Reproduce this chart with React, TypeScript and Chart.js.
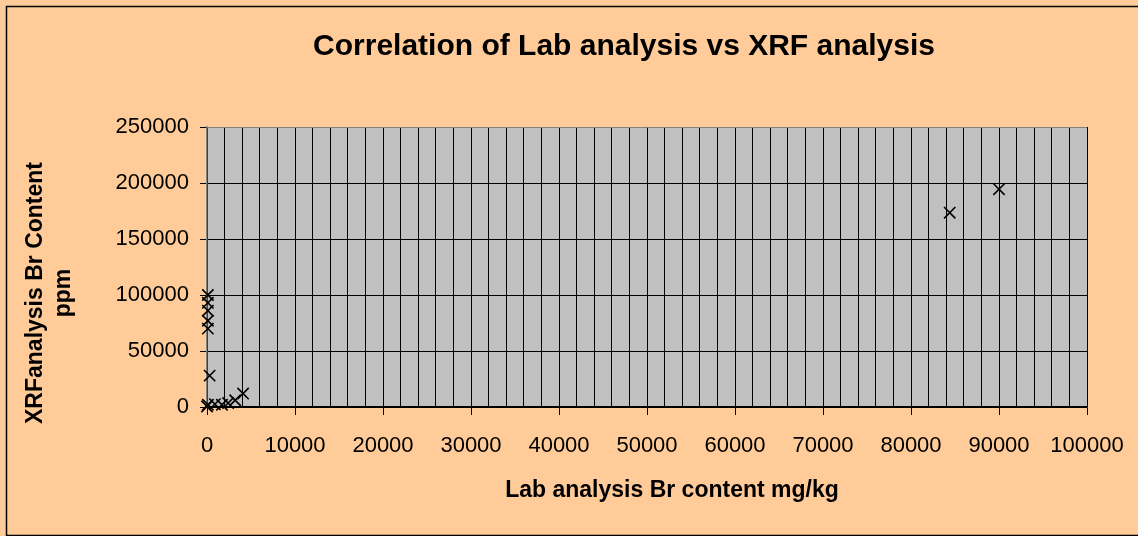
import React, { useEffect, useRef } from "react";
import { Chart, registerables } from "chart.js";

Chart.register(...registerables);

const labBr: number[] = [0, 100, 900, 1700, 2400, 3200, 4100, 100, 100, 100, 100, 100, 300, 84400, 90000];
const xrfBr: number[] = [500, 2000, 2500, 2000, 3500, 6000, 12000, 100000, 93000, 86000, 77000, 70000, 28000, 173500, 194500];

const chartTitle = "Correlation of Lab analysis vs XRF analysis";
const xTitle = "Lab analysis Br content mg/kg";
const yTitleLines = ["XRFanalysis Br Content", "ppm"];

const FONT = "'Liberation Sans', Arial, sans-serif";

const decor = {
  id: "decor",
  beforeDraw(chart: any) {
    const { ctx, width, height, chartArea } = chart;
    ctx.save();
    ctx.fillStyle = "#FFCC99";
    ctx.fillRect(0, 0, width, height);
    ctx.strokeStyle = "#000";
    ctx.lineWidth = 1.5;
    ctx.strokeRect(6.5, 6.5, width + 10, height - 7);
    ctx.fillStyle = "#C0C0C0";
    ctx.fillRect(chartArea.left, chartArea.top, chartArea.right - chartArea.left, chartArea.bottom - chartArea.top);
    ctx.restore();
  },
  afterDraw(chart: any) {
    const { ctx } = chart;
    ctx.save();
    ctx.fillStyle = "#000";
    ctx.textAlign = "center";
    ctx.textBaseline = "middle";
    ctx.font = `bold 30px ${FONT}`;
    ctx.fillText(chartTitle, 624, 47);
    ctx.font = `bold 23px ${FONT}`;
    ctx.fillText(xTitle, 672, 491);
    ctx.translate(0, 293);
    ctx.rotate(-Math.PI / 2);
    ctx.textBaseline = "alphabetic";
    ctx.fillText(yTitleLines[0], 0, 42);
    ctx.fillText(yTitleLines[1], 0, 70);
    ctx.restore();
  },
};

export default function App() {
  const ref = useRef<HTMLCanvasElement | null>(null);
  useEffect(() => {
    document.body.style.margin = "0";
    if (!ref.current) return;
    const chart = new Chart(ref.current, {
      type: "scatter",
      data: {
        datasets: [
          {
            label: "Br",
            data: labBr.map((x, i) => ({ x, y: xrfBr[i] })),
            pointStyle: "crossRot",
            pointRadius: 8,
            pointBorderWidth: 1.6,
            borderColor: "#000",
            backgroundColor: "#000",
            showLine: false,
            clip: false,
          },
        ],
      },
      options: {
        animation: false,
        responsive: false,
        devicePixelRatio: 1,
        layout: { padding: { left: 0, top: 127, right: 51, bottom: 0 } },
        plugins: { legend: { display: false }, title: { display: false }, tooltip: { enabled: false } },
        scales: {
          x: {
            type: "linear",
            min: 0,
            max: 100000,
            afterFit: (s: any) => {
              s.height = 129;
              s.paddingLeft = 0;
              s.paddingRight = 0;
            },
            ticks: {
              stepSize: 2000,
              autoSkip: false,
              maxRotation: 0,
              padding: 18,
              color: "#000",
              font: { family: FONT, size: 22 },
              callback: (v: any) => (Number(v) % 10000 === 0 ? String(v) : ""),
            },
            grid: {
              color: "#000",
              lineWidth: 1,
              tickLength: 8,
              tickColor: (c: any) => (c.tick && c.tick.value % 10000 === 0 ? "#000" : "rgba(0,0,0,0)"),
            },
            border: { color: "#000", width: 1.5 },
          },
          y: {
            type: "linear",
            min: 0,
            max: 250000,
            afterFit: (s: any) => {
              s.width = 207;
              s.paddingTop = 0;
              s.paddingBottom = 0;
            },
            ticks: {
              stepSize: 50000,
              padding: 11,
              color: "#000",
              font: { family: FONT, size: 22 },
              callback: (v: any) => String(v),
            },
            grid: {
              color: (c: any) => (c.tick && c.tick.value === 250000 ? "#808080" : "#000"),
              lineWidth: 1,
              tickLength: 7,
              tickColor: "#000",
            },
            border: { color: "#808080", width: 1.5 },
          },
        },
      },
      plugins: [decor],
    });
    return () => chart.destroy();
  }, []);
  return <canvas ref={ref} width={1138} height={536} style={{ display: "block", width: 1138, height: 536 }} />;
}
